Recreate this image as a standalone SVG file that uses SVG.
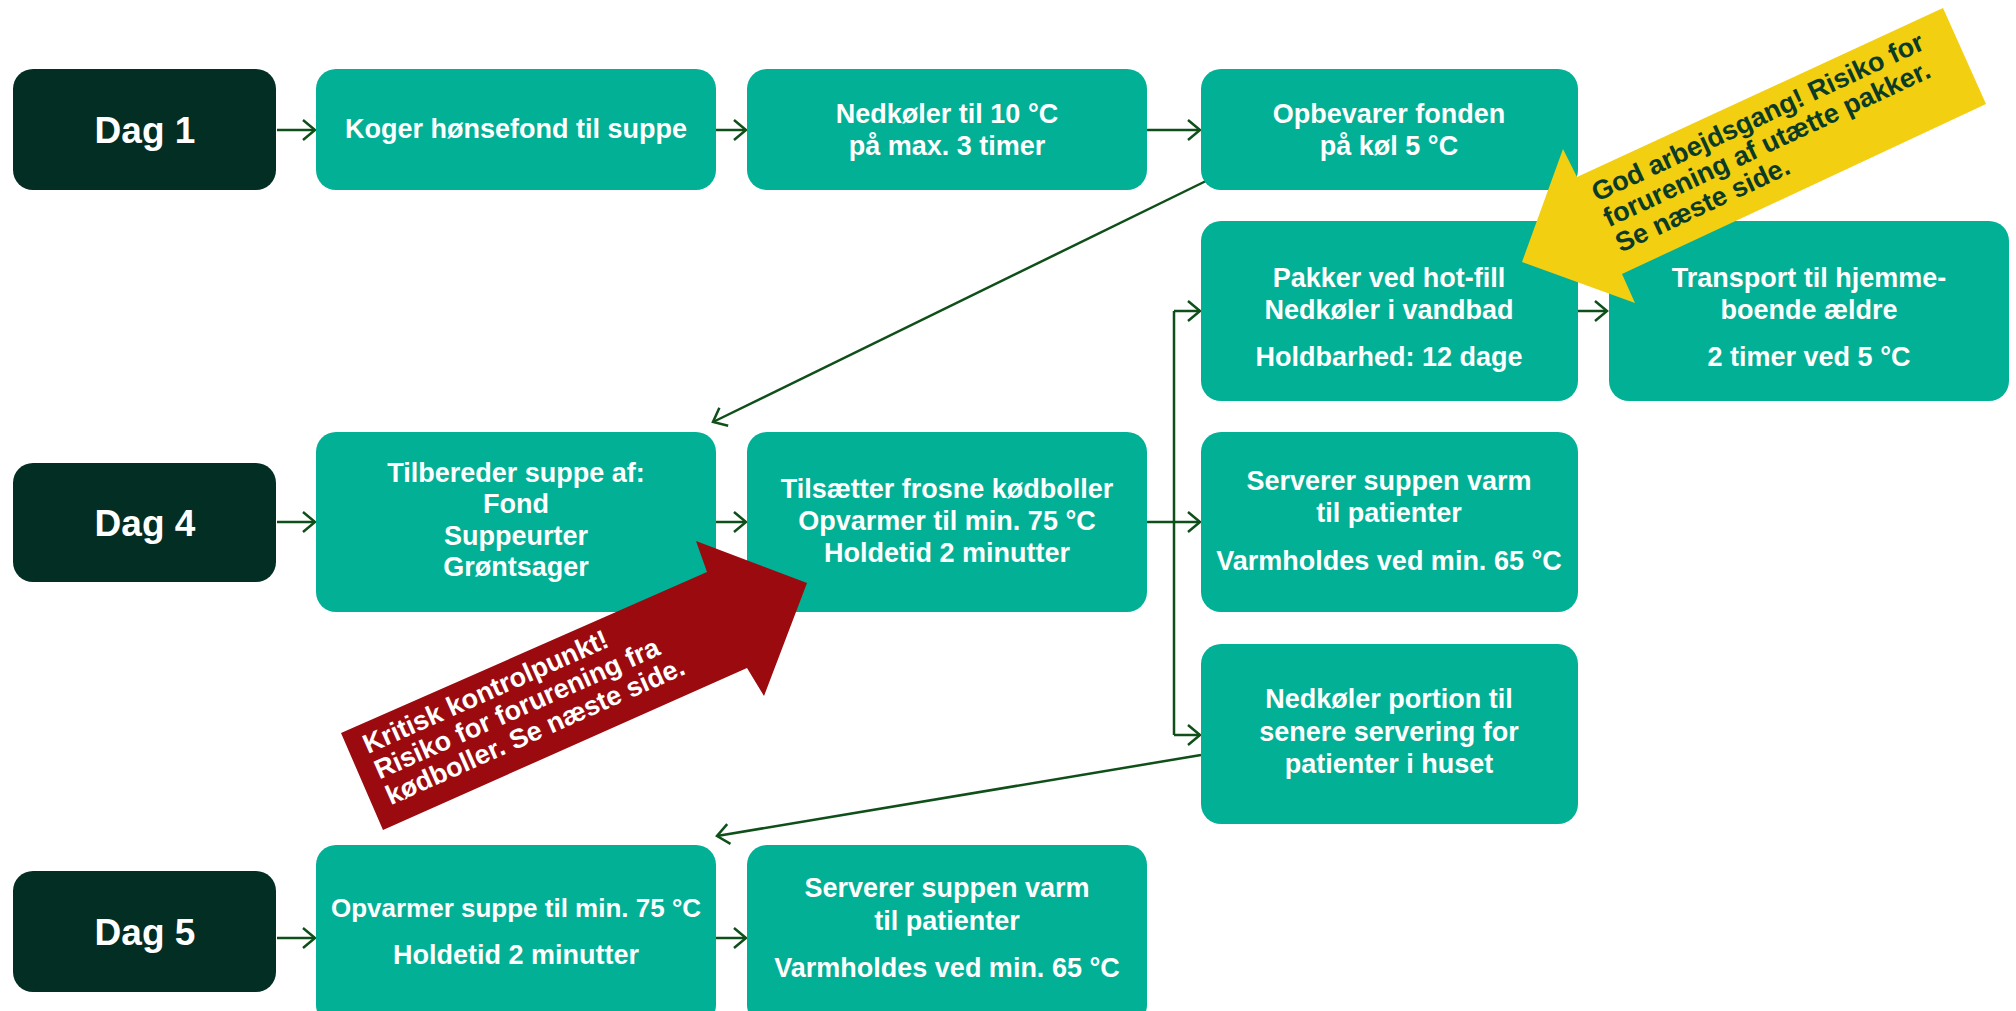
<svg xmlns="http://www.w3.org/2000/svg" width="2016" height="1011" viewBox="0 0 2016 1011">
<style>
.box{fill:#02B096;}
.day{fill:#032E24;}
.t{font-family:"Liberation Sans",Arial,sans-serif;font-weight:bold;font-size:27px;fill:#FFFFFF;text-anchor:middle;}
.d{font-family:"Liberation Sans",Arial,sans-serif;font-weight:bold;font-size:37px;fill:#FFFFFF;text-anchor:middle;}
.c{fill:none;stroke:#0F4F1A;stroke-width:2.5;}
.ct{font-family:"Liberation Sans",Arial,sans-serif;font-weight:bold;font-size:27px;}
</style>
<defs>
<marker id="arr" markerUnits="userSpaceOnUse" markerWidth="30" markerHeight="30" refX="0" refY="0" viewBox="-15 -15 30 30" orient="auto">
<path d="M-12,-10 L0,0 L-12,10" fill="none" stroke="#0F4F1A" stroke-width="2.5"/>
</marker>
</defs>
<rect width="2016" height="1011" fill="#FFFFFF"/>

<g id="connectors">
<line class="c" x1="277" y1="130" x2="315" y2="130" marker-end="url(#arr)"/>
<line class="c" x1="716" y1="130" x2="746" y2="130" marker-end="url(#arr)"/>
<line class="c" x1="1147" y1="130" x2="1200" y2="130" marker-end="url(#arr)"/>
<line class="c" x1="1206" y1="181" x2="713" y2="422" marker-end="url(#arr)"/>
<line class="c" x1="277" y1="522" x2="315" y2="522" marker-end="url(#arr)"/>
<line class="c" x1="716" y1="522" x2="746" y2="522" marker-end="url(#arr)"/>
<line class="c" x1="1147" y1="522" x2="1200" y2="522" marker-end="url(#arr)"/>
<polyline class="c" points="1174,311 1174,735"/>
<line class="c" x1="1174" y1="311" x2="1200" y2="311" marker-end="url(#arr)"/>
<line class="c" x1="1174" y1="735" x2="1200" y2="735" marker-end="url(#arr)"/>
<line class="c" x1="1578" y1="311" x2="1607" y2="311" marker-end="url(#arr)"/>
<line class="c" x1="1201" y1="755" x2="717" y2="836" marker-end="url(#arr)"/>
<line class="c" x1="277" y1="938" x2="315" y2="938" marker-end="url(#arr)"/>
<line class="c" x1="716" y1="938" x2="746" y2="938" marker-end="url(#arr)"/>
</g>

<g id="dag1"><rect class="day" x="13" y="69" width="263" height="121" rx="20"/><text class="d" x="145" y="143">Dag 1</text></g>
<g id="dag4"><rect class="day" x="13" y="463" width="263" height="119" rx="20"/><text class="d" x="145" y="536">Dag 4</text></g>
<g id="dag5"><rect class="day" x="13" y="871" width="263" height="121" rx="20"/><text class="d" x="145" y="945">Dag 5</text></g>

<g id="koger"><rect class="box" x="316" y="69" width="400" height="121" rx="20"/><text class="t" x="516" y="138">Koger hønsefond til suppe</text></g>
<g id="nedkoler"><rect class="box" x="747" y="69" width="400" height="121" rx="20"/><text class="t" x="947" y="123">Nedkøler til 10 °C</text><text class="t" x="947" y="155">på max. 3 timer</text></g>
<g id="opbevarer"><rect class="box" x="1201" y="69" width="377" height="121" rx="20"/><text class="t" x="1389" y="123">Opbevarer fonden</text><text class="t" x="1389" y="155">på køl 5 °C</text></g>

<g id="pakker"><rect class="box" x="1201" y="221" width="377" height="180" rx="20"/><text class="t" x="1389" y="287">Pakker ved hot-fill</text><text class="t" x="1389" y="319">Nedkøler i vandbad</text><text class="t" x="1389" y="366">Holdbarhed: 12 dage</text></g>
<g id="transport"><rect class="box" x="1609" y="221" width="400" height="180" rx="20"/><text class="t" x="1809" y="287">Transport til hjemme-</text><text class="t" x="1809" y="319">boende ældre</text><text class="t" x="1809" y="366">2 timer ved 5 °C</text></g>

<g id="tilbereder"><rect class="box" x="316" y="432" width="400" height="180" rx="20"/><text class="t" x="516" y="482">Tilbereder suppe af:</text><text class="t" x="516" y="513">Fond</text><text class="t" x="516" y="545">Suppeurter</text><text class="t" x="516" y="576">Grøntsager</text></g>
<g id="tilsaetter"><rect class="box" x="747" y="432" width="400" height="180" rx="20"/><text class="t" x="947" y="498">Tilsætter frosne kødboller</text><text class="t" x="947" y="530">Opvarmer til min. 75 °C</text><text class="t" x="947" y="562">Holdetid 2 minutter</text></g>
<g id="serverer4"><rect class="box" x="1201" y="432" width="377" height="180" rx="20"/><text class="t" x="1389" y="490">Serverer suppen varm</text><text class="t" x="1389" y="522">til patienter</text><text class="t" x="1389" y="570">Varmholdes ved min. 65 °C</text></g>
<g id="nedkolerportion"><rect class="box" x="1201" y="644" width="377" height="180" rx="20"/><text class="t" x="1389" y="708">Nedkøler portion til</text><text class="t" x="1389" y="741">senere servering for</text><text class="t" x="1389" y="773">patienter i huset</text></g>

<g id="opvarmer"><rect class="box" x="316" y="845" width="400" height="180" rx="20"/><text class="t" x="516" y="917" style="font-size:26px">Opvarmer suppe til min. 75 °C</text><text class="t" x="516" y="964">Holdetid 2 minutter</text></g>
<g id="serverer5"><rect class="box" x="747" y="845" width="400" height="180" rx="20"/><text class="t" x="947" y="897">Serverer suppen varm</text><text class="t" x="947" y="930">til patienter</text><text class="t" x="947" y="977">Varmholdes ved min. 65 °C</text></g>

<g id="kritisk">
<polygon points="341,733 383,830 747,668 764,696 807,583 696,541 707,572" fill="#9B0A0F"/>
<text class="ct" fill="#FFFFFF" transform="rotate(-24 368 754)"><tspan x="368" y="754">Kritisk kontrolpunkt!</tspan><tspan x="368" y="782">Risiko for forurening fra</tspan><tspan x="368" y="810">kødboller. Se næste side.</tspan></text>
</g>

<g id="godarbejdsgang">
<polygon points="1943,8 1986,104 1622,274 1635,303 1522,262 1563,149 1577,177" fill="#F2CF10"/>
<text class="ct" fill="#0A3B27" transform="rotate(-25 1597 202)"><tspan x="1597" y="202">God arbejdsgang! Risiko for</tspan><tspan x="1597" y="230">forurening af utætte pakker.</tspan><tspan x="1597" y="258">Se næste side.</tspan></text>
</g>
</svg>
